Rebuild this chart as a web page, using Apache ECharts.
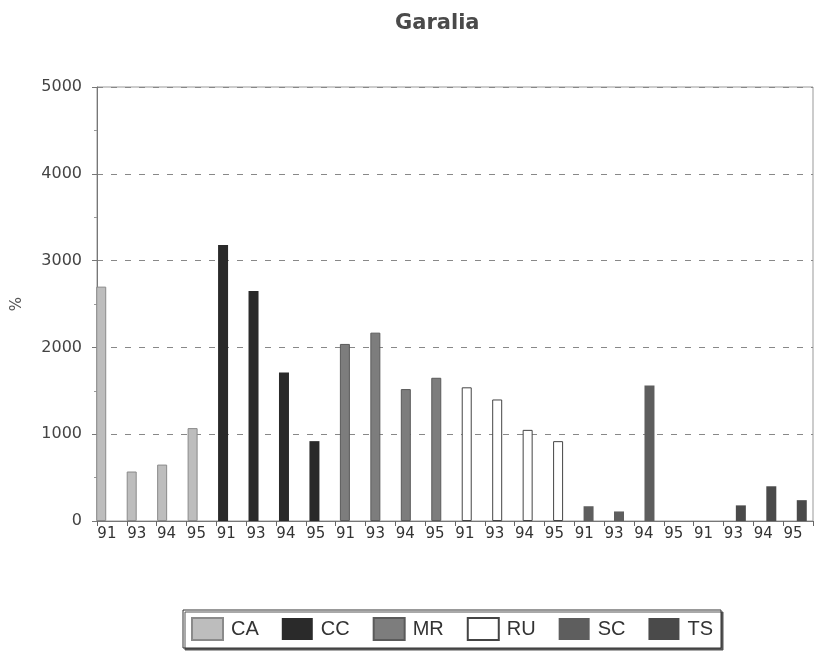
<!DOCTYPE html>
<html>
<head>
<meta charset="utf-8">
<script src="https://cdn.jsdelivr.net/npm/echarts@6/dist/echarts.min.js"></script>
<style>html,body{margin:0;padding:0;background:#fff;}#c{width:817px;height:655px;}</style>
</head>
<body>
<div id="c"></div>
<script>
var years = ['91', '93', '94', '95'];
var groups = ['CA', 'CC', 'MR', 'RU', 'SC', 'TS'];
var CA = [2700, 570, 650, 1070];
var CC = [3180, 2650, 1710, 920];
var MR = [2040, 2170, 1520, 1650];
var RU = [1540, 1400, 1050, 920];
var SC = [170, 110, 1560, 0];
var TS = [0, 180, 400, 240];
var yTicks = [0, 1000, 2000, 3000, 4000, 5000];

var values = {CA: CA, CC: CC, MR: MR, RU: RU, SC: SC, TS: TS};
var categories = [];
groups.forEach(function (g) { years.forEach(function (y) { categories.push(y); }); });

var styles = {
  CA: {color: '#bdbdbd', borderColor: '#8a8a8a', borderWidth: 1},
  CC: {color: '#2a2a2a', borderColor: '#2a2a2a', borderWidth: 0},
  MR: {color: '#7d7d7d', borderColor: '#5a5a5a', borderWidth: 1},
  RU: {color: '#ffffff', borderColor: '#444444', borderWidth: 1},
  SC: {color: '#5e5e5e', borderColor: '#444444', borderWidth: 0},
  TS: {color: '#4a4a4a', borderColor: '#333333', borderWidth: 0}
};

var series = groups.map(function (g, gi) {
  var data = categories.map(function () { return '-'; });
  values[g].forEach(function (v, i) { data[gi * years.length + i] = v; });
  return {
    name: g,
    type: 'bar',
    xAxisIndex: 1,
    yAxisIndex: 1,
    stack: 'one',
    barWidth: 10,
    data: data,
    itemStyle: styles[g]
  };
});

var chart = echarts.init(document.getElementById('c'));
chart.setOption({
  animation: false,
  backgroundColor: '#ffffff',
  title: {
    text: 'Garalia',
    left: 390,
    top: 8,
    textStyle: {fontFamily: 'DejaVu Sans', fontSize: 21, fontWeight: 'bold', color: '#4a4a4a'}
  },
  legend: {
    left: 183,
    top: 610,
    padding: [7, 8],
    icon: 'rect',
    itemWidth: 31,
    itemHeight: 22,
    itemGap: 23,
    borderColor: '#333',
    borderWidth: 1,
    backgroundColor: '#fff',
    shadowColor: '#555',
    shadowOffsetX: 2,
    shadowOffsetY: 2,
    shadowBlur: 0,
    data: groups,
    textStyle: {fontFamily: 'Liberation Sans', fontSize: 20, color: '#333', padding: [0, 0, 0, 3]}
  },
  grid: [
    {left: 97, right: 4, top: 87, bottom: 134, show: true, borderColor: '#999', borderWidth: 1, backgroundColor: 'transparent'},
    {left: 86, right: -7, top: 87, bottom: 134, show: false}
  ],
  xAxis: [
    {
      type: 'category', gridIndex: 0, data: categories, boundaryGap: true,
      axisLine: {lineStyle: {color: '#777', width: 1}},
      axisTick: {show: true, length: 5, lineStyle: {color: '#666'}},
      axisLabel: {interval: 0, margin: 6, padding: [0, 10, 0, 0], fontFamily: 'DejaVu Sans', fontSize: 15, color: '#333'},
      splitLine: {show: false}
    },
    {
      type: 'category', gridIndex: 1, data: categories, boundaryGap: true,
      show: false
    }
  ],
  yAxis: [
    {
      type: 'value', gridIndex: 0, min: yTicks[0], max: yTicks[yTicks.length - 1], interval: 1000,
      name: '%', nameLocation: 'middle', nameGap: 72, nameRotate: 90,
      nameTextStyle: {fontFamily: 'DejaVu Sans', fontSize: 15, color: '#555'},
      axisLine: {show: true, lineStyle: {color: '#777'}},
      axisTick: {show: true, length: 5, lineStyle: {color: '#777'}},
      minorTick: {show: true, splitNumber: 2, length: 3, lineStyle: {color: '#999'}},
      axisLabel: {margin: 15, fontFamily: 'DejaVu Sans', fontSize: 16, color: '#444',
        formatter: function (v) { return String(v); }},
      splitLine: {show: true, lineStyle: {color: '#888', type: [6, 8], width: 1}}
    },
    {
      type: 'value', gridIndex: 1, min: yTicks[0], max: yTicks[yTicks.length - 1], interval: 1000,
      show: false, splitLine: {show: false}
    }
  ],
  series: series
});
</script>
</body>
</html>
